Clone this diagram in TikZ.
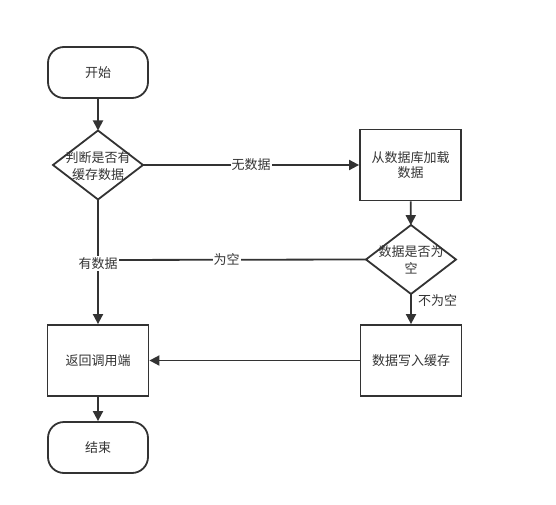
\documentclass[tikz,border=0pt]{standalone}
\usepackage{fontspec}
\setmainfont{Noto Sans CJK SC}
\usetikzlibrary{shapes.geometric,arrows.meta}
\definecolor{ln}{HTML}{333333}
\newcommand{\zbox}[1]{\smash{\makebox[0pt]{\raisebox{-5.5pt}{\begin{tabular}{@{}c@{}}#1\end{tabular}}}}}
\begin{document}
\begin{tikzpicture}[x=1pt,y=-1pt,
  every node/.style={font=\fontsize{13}{16}\selectfont, text=ln},
  term/.style={draw=ln, line width=1.8pt, rounded corners=16pt, minimum width=100pt, minimum height=51pt, inner sep=0pt},
  proc/.style={draw=ln, line width=1.8pt, minimum width=101pt, minimum height=71pt, inner sep=0pt, align=center},
  dec/.style={draw=ln, line width=1.8pt, diamond, minimum width=90pt, minimum height=69pt, inner sep=0pt, outer sep=0pt},
  conn/.style={draw=ln, line width=1.8pt, -{Triangle[length=10pt,width=10pt]}},
  plain/.style={draw=ln, line width=1.8pt},
  lbl/.style={fill=white, inner sep=1pt}
]
\useasboundingbox (0,0) rectangle (556,505);
\node[term] (start) at (98,72.5) {开始};
\node[dec] (d1) at (98,165) {\zbox{判断是否有\\[1pt]缓存数据}};
\node[proc] (load) at (410.5,165) {从数据库加载\\[-1pt]数据};
\node[dec] (d2) at (411,259.5) {\zbox{数据是否为\\[1pt]空}};
\node[proc] (write) at (411,360.5) {数据写入缓存};
\node[proc] (ret) at (98,360.5) {返回调用端};
\node[term] (end) at (98,447.5) {结束};
\coordinate (join) at (98,260);

\draw[conn] (start) -- (d1);
\draw[conn] (d1) -- node[lbl] {无数据} (load);
\draw[conn] (load) -- (d2);
\draw[plain] (d2.west) -- node[lbl, pos=0.52] {为空} (join);
\draw[conn] (d1) -- (ret);
\node[lbl] (has) at (98,263.5) {有数据};
\draw[conn] (d2) -- node[right=3pt, pos=0.2, fill=none] {不为空} (write);
\draw[conn] (write) -- (ret);
\draw[conn] (ret) -- (end);
\end{tikzpicture}
\end{document}
